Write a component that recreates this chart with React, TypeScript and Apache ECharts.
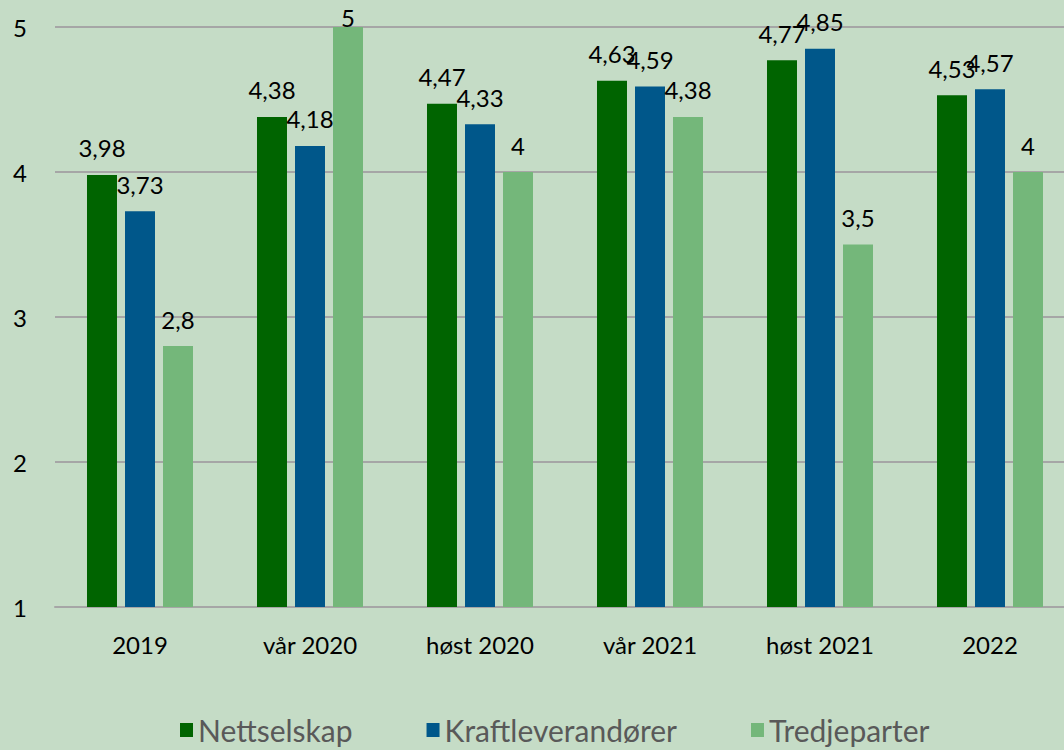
import React, { useEffect, useRef } from "react";
import * as echarts from "echarts";

const categories = ["2019", "vår 2020", "høst 2020", "vår 2021", "høst 2021", "2022"];
const nettselskap = [3.98, 4.38, 4.47, 4.63, 4.77, 4.53];
const kraftleverandorer = [3.73, 4.18, 4.33, 4.59, 4.85, 4.57];
const tredjeparter = [2.8, 5, 4, 4.38, 3.5, 4];
const seriesNames = ["Nettselskap", "Kraftleverandører", "Tredjeparter"];
const colors = ["#006400", "#00578a", "#74b77a"];
const Y_MAX = 5;

const FONT = "Lato, 'Noto Sans', sans-serif";

export default function App() {
  const ref = useRef<HTMLDivElement>(null);
  useEffect(() => {
    if (!ref.current) return;
    const chart = echarts.init(ref.current, undefined, { renderer: "svg" });
    const data = [nettselskap, kraftleverandorer, tredjeparter];
    chart.setOption({
      animation: false,
      backgroundColor: "#c5dcc6",
      textStyle: { fontFamily: FONT },
      grid: { left: 55, right: 0, top: 27, bottom: 143, containLabel: false },
      legend: {
        left: 175,
        bottom: 0,
        itemWidth: 13,
        itemHeight: 14,
        itemGap: 74,
        itemTextGap: 11,
        icon: "rect",
        textStyle: { fontSize: 30, color: "#595959", fontFamily: FONT },
        data: seriesNames,
      },
      xAxis: {
        type: "category",
        data: categories,
        axisLine: { show: true, lineStyle: { color: "#a6a6a6", width: 2 } },
        axisTick: { show: false },
        axisLabel: { fontSize: 24, color: "#000", margin: 25, fontFamily: FONT },
      },
      yAxis: {
        type: "value",
        min: 1,
        max: Y_MAX,
        interval: 1,
        axisLine: { show: false },
        axisTick: { show: false },
        axisLabel: { fontSize: 24, color: "#000", margin: 28, fontFamily: FONT },
        splitLine: { lineStyle: { color: "#a6a6a6", width: 2 } },
      },
      series: seriesNames.map((name, i) => ({
        name,
        type: "bar",
        data: data[i].map((v) =>
          v >= Y_MAX ? { value: v, label: { distance: -2 } } : v
        ),
        barWidth: 30,
        barGap: "26.67%",
        itemStyle: { color: colors[i] },
        label: {
          show: true,
          position: "top",
          distance: 15,
          fontSize: 24,
          color: "#000",
          fontFamily: FONT,
          formatter: (p: any) => String(p.value).replace(".", ","),
        },
      })),
    });
    return () => chart.dispose();
  }, []);
  return (
    <div style={{ width: 1064, height: 750, position: "absolute", left: 0, top: 0, overflow: "hidden" }}>
      <div ref={ref} style={{ width: 1075, height: 750 }} />
    </div>
  );
}
